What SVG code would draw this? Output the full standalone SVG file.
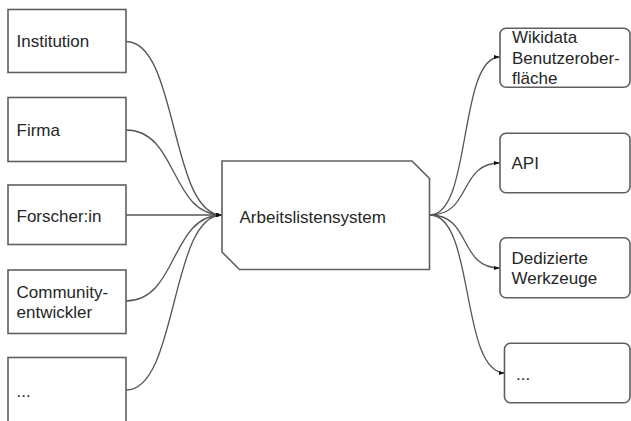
<svg xmlns="http://www.w3.org/2000/svg" width="631" height="421" viewBox="0 0 631 421">
<defs>
<style>
.box{fill:#fff;stroke:#5f5f5f;stroke-width:1.6}
.t{font-family:"Liberation Sans",Arial,sans-serif;font-size:17px;fill:#262626}
.c{fill:none;stroke:#555;stroke-width:1.3}
</style>
<marker id="ah" viewBox="0 0 10 10" refX="10" refY="5" markerWidth="6" markerHeight="6" markerUnits="userSpaceOnUse" orient="auto">
<path d="M0,1.5 L10,5 L0,8.5 z" fill="#111"/>
</marker>
</defs>
<rect width="631" height="421" fill="#fff"/>
<g id="connectors">
<path class="c" d="M126,41.5 C178,41.5 170,215 222,215" marker-end="url(#ah)"/>
<path class="c" d="M126,130 C178,130 170,215 222,215" marker-end="url(#ah)"/>
<path class="c" d="M126,215 L222,215" marker-end="url(#ah)"/>
<path class="c" d="M126,301 C178,301 170,215 222,215" marker-end="url(#ah)"/>
<path class="c" d="M126,390 C178,390 170,215 222,215" marker-end="url(#ah)"/>
<path class="c" d="M430,215 C472,215 458,57 500,57" marker-end="url(#ah)"/>
<path class="c" d="M430,215 C472,215 458,163 500,163" marker-end="url(#ah)"/>
<path class="c" d="M430,215 C472,215 458,268 500,268" marker-end="url(#ah)"/>
<path class="c" d="M430,215 C475,215 460,373 505,373" marker-end="url(#ah)"/>
</g>
<g id="institution">
<rect class="box" x="8" y="9.5" width="118" height="63"/>
<text class="t" x="16.5" y="46.7">Institution</text>
</g>
<g id="firma">
<rect class="box" x="8" y="97.5" width="118" height="64"/>
<text class="t" x="16.5" y="135.5">Firma</text>
</g>
<g id="forscher">
<rect class="box" x="8" y="185" width="118" height="59.5"/>
<text class="t" x="16.5" y="221.5">Forscher:in</text>
</g>
<g id="community">
<rect class="box" x="8" y="270" width="118" height="63.5"/>
<text class="t" x="16.5" y="298.3">Community-</text>
<text class="t" x="16.5" y="318.3">entwickler</text>
</g>
<g id="more-left">
<rect class="box" x="8" y="357.5" width="118" height="70"/>
<text class="t" x="16.5" y="396.5">...</text>
</g>
<g id="system">
<polygon class="box" points="222,161 412,161 429.5,178.5 429.5,269.5 239.5,269.5 222,252"/>
<text class="t" x="239.5" y="222.5">Arbeitslistensystem</text>
</g>
<g id="wikidata-ui">
<rect class="box" x="500" y="28.3" width="130" height="59" rx="6"/>
<text class="t" x="512" y="43.3">Wikidata</text>
<text class="t" x="512" y="64">Benutzerober-</text>
<text class="t" x="512" y="84.3">fläche</text>
</g>
<g id="api">
<rect class="box" x="500" y="133.3" width="130" height="59.4" rx="6"/>
<text class="t" x="511.5" y="169">API</text>
</g>
<g id="werkzeuge">
<rect class="box" x="500" y="237.7" width="130" height="60" rx="6"/>
<text class="t" x="511.5" y="264.3">Dedizierte</text>
<text class="t" x="511.5" y="283.5">Werkzeuge</text>
</g>
<g id="more-right">
<rect class="box" x="504.5" y="343.3" width="125.5" height="59.4" rx="6"/>
<text class="t" x="516" y="380">...</text>
</g>
</svg>
